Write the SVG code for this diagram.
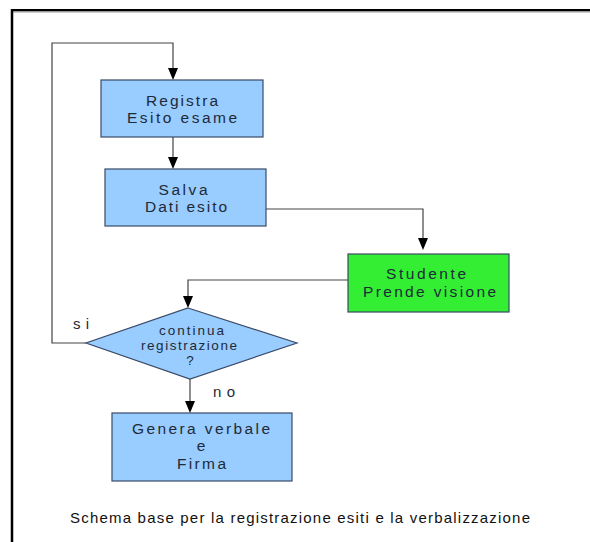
<svg xmlns="http://www.w3.org/2000/svg" width="590" height="542" viewBox="0 0 590 542">
<style>
.box{fill:#99ccff;stroke:#3a4a66;stroke-width:1.2}
.green{fill:#33ee33;stroke:#3a4a66;stroke-width:1.2}
.t{font-family:"Liberation Sans",Arial,sans-serif;font-size:15.5px;fill:#1e2a38;text-anchor:middle}
.d{font-size:13.5px}
.lbl{font-family:"Liberation Sans",Arial,sans-serif;font-size:15px;fill:#1e2a38}
.c{fill:none;stroke:#444;stroke-width:1.2}
</style>
<rect width="590" height="542" fill="#fff"/>
<g id="frame">
<line x1="12" y1="11.5" x2="590" y2="11.5" stroke="#999" stroke-width="2"/>
<line x1="11" y1="10" x2="590" y2="10" stroke="#000" stroke-width="2"/>
<line x1="12" y1="9" x2="12" y2="542" stroke="#000" stroke-width="2.5"/>
</g>
<g id="connectors">
<path class="c" d="M86,343 H52 V43 H173 V68"/>
<path d="M168,68 L178,68 L173,80 Z" fill="#000"/>
<path class="c" d="M173,137 V157"/>
<path d="M168,157 L178,157 L173,169 Z" fill="#000"/>
<path class="c" d="M266,209 H423 V238"/>
<path d="M418,238 L428,238 L423,250 Z" fill="#000"/>
<path class="c" d="M348,280 H188 V296"/>
<path d="M183,296 L193,296 L188,308 Z" fill="#000"/>
<path class="c" d="M190,379 V401"/>
<path d="M185,401 L195,401 L190,413 Z" fill="#000"/>
<text class="lbl" x="73" y="329" textLength="16" lengthAdjust="spacing">si</text>
<text class="lbl" x="213" y="397" textLength="22" lengthAdjust="spacing">no</text>
</g>
<g id="registra">
<rect class="box" x="101" y="80" width="162" height="57"/>
<text class="t" x="182" y="106" textLength="72" lengthAdjust="spacing">Registra</text>
<text class="t" x="182" y="123" textLength="110" lengthAdjust="spacing">Esito esame</text>
</g>
<g id="salva">
<rect class="box" x="105" y="169" width="161" height="57"/>
<text class="t" x="183" y="195" textLength="49" lengthAdjust="spacing">Salva</text>
<text class="t" x="186" y="212" textLength="82" lengthAdjust="spacing">Dati esito</text>
</g>
<g id="studente">
<rect class="green" x="348" y="254" width="161" height="58"/>
<text class="t" x="426" y="279" textLength="80" lengthAdjust="spacing">Studente</text>
<text class="t" x="429.5" y="297" textLength="133" lengthAdjust="spacing">Prende visione</text>
</g>
<g id="decisione">
<polygon class="box" points="188,308 297,343 190,379 86,343"/>
<text class="t d" x="191.5" y="335" textLength="65" lengthAdjust="spacing">continua</text>
<text class="t d" x="189" y="350" textLength="96" lengthAdjust="spacing">registrazione</text>
<text class="t d" x="190" y="365">?</text>
</g>
<g id="genera">
<rect class="box" x="112" y="413" width="180" height="68"/>
<text class="t" x="201" y="434" textLength="138" lengthAdjust="spacing">Genera verbale</text>
<text class="t" x="201" y="451">e</text>
<text class="t" x="201.5" y="469" textLength="49" lengthAdjust="spacing">Firma</text>
</g>
<text x="70" y="523" font-family="'Liberation Sans',Arial,sans-serif" font-size="15" fill="#111" textLength="460" lengthAdjust="spacing">Schema base per la registrazione esiti e la verbalizzazione</text>
</svg>
